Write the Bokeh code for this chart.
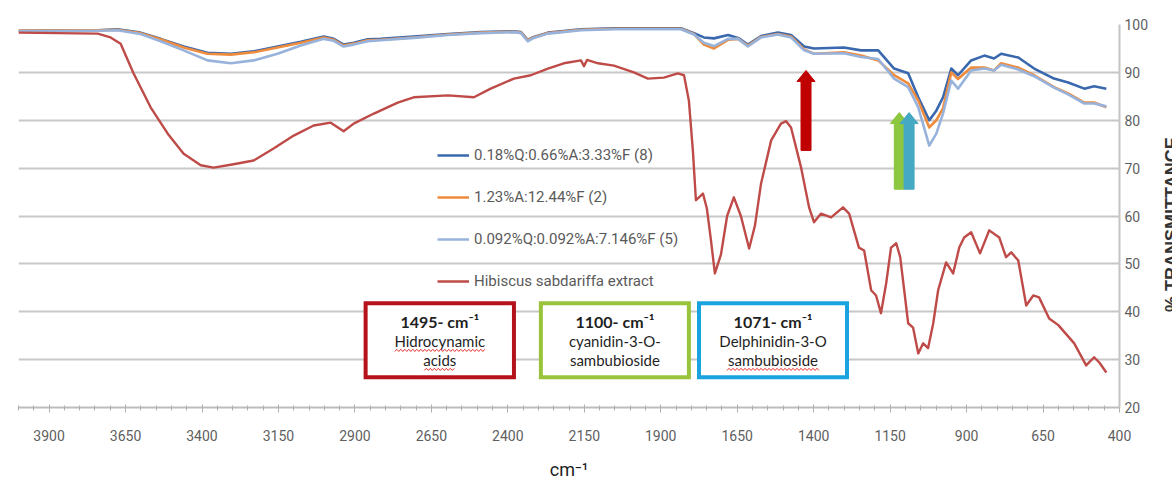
from bokeh.plotting import figure
from bokeh.models import Range1d, FixedTicker, Legend, LegendItem, Div
from bokeh.layouts import row
from bokeh.core.properties import value
from bokeh.embed import file_html
from bokeh.resources import INLINE

# ---- FTIR spectra (wavenumber in cm-1, % transmittance) ----
wavenumber = [4000, 3741, 3676, 3601, 3535, 3460, 3382, 3306, 3231, 3153,
              3077, 3002, 2969, 2937, 2904, 2858, 2816, 2708, 2596, 2488,
              2380, 2357, 2335, 2315, 2269, 2161, 2053, 1942, 1834, 1791,
              1759, 1726, 1680, 1647, 1615, 1572, 1517, 1474, 1431, 1399,
              1301, 1245, 1189, 1137, 1091, 1058, 1022, 999, 977, 950,
              928, 885, 842, 810, 787, 731, 679, 614, 568, 515,
              483, 443]

film_8 = [98.7, 98.8, 99.0, 98.3, 97.0, 95.4, 94.1, 93.9, 94.4, 95.4,
          96.4, 97.5, 97.0, 95.8, 96.2, 96.9, 97.0, 97.5, 98.0, 98.4,
          98.6, 98.4, 96.8, 97.4, 98.3, 99.0, 99.2, 99.2, 99.2, 98.2,
          97.3, 97.1, 97.8, 97.2, 95.8, 97.6, 98.3, 97.8, 95.4, 95.0,
          95.2, 94.6, 94.6, 90.8, 89.8, 84.8, 80.0, 82.0, 84.8, 90.8,
          89.4, 92.5, 93.5, 92.9, 93.9, 93.1, 90.8, 88.7, 87.9, 86.6,
          87.1, 86.6]

film_2 = [98.7, 98.8, 98.9, 98.2, 96.9, 95.2, 93.9, 93.7, 94.2, 95.2,
          96.2, 97.3, 96.8, 95.6, 96.0, 96.7, 96.8, 97.3, 97.9, 98.3,
          98.5, 98.3, 96.7, 97.3, 98.2, 98.9, 99.1, 99.1, 99.1, 98.0,
          95.8, 95.0, 96.8, 97.0, 95.6, 97.4, 98.0, 97.5, 94.8, 93.9,
          94.2, 93.5, 92.5, 89.4, 87.7, 84.1, 78.5, 80.0, 82.5, 90.0,
          88.6, 91.0, 91.0, 90.4, 91.9, 91.0, 89.4, 86.9, 85.6, 83.7,
          83.7, 82.7]

film_5 = [98.6, 98.7, 98.8, 98.0, 96.5, 94.6, 92.5, 91.9, 92.5, 93.9,
          95.6, 97.0, 96.6, 95.4, 95.8, 96.5, 96.7, 97.2, 97.8, 98.2,
          98.4, 98.2, 96.5, 97.2, 98.1, 98.8, 99.0, 99.0, 99.0, 97.9,
          96.2, 95.5, 97.0, 97.0, 95.4, 97.3, 97.9, 97.3, 94.6, 93.9,
          94.0, 93.2, 92.8, 88.7, 86.9, 82.7, 74.7, 77.2, 81.4, 88.3,
          86.6, 90.4, 90.8, 90.4, 91.6, 90.6, 89.2, 86.8, 85.4, 83.5,
          83.5, 82.9]

extract_wavenumber = [4000, 3741, 3699, 3666, 3624, 3568, 3512, 3460, 3404, 3362,
                      3297, 3231, 3166, 3100, 3035, 2979, 2937, 2904, 2838, 2760,
                      2708, 2596, 2511, 2456, 2380, 2325, 2269, 2217, 2161, 2151,
                      2141, 2105, 2053, 1988, 1942, 1890, 1844, 1824, 1808, 1795,
                      1785, 1775, 1762, 1749, 1736, 1723, 1703, 1683, 1661, 1638,
                      1611, 1592, 1572, 1539, 1507, 1490, 1474, 1441, 1415, 1399,
                      1376, 1343, 1304, 1284, 1252, 1235, 1212, 1196, 1180, 1163,
                      1147, 1130, 1117, 1091, 1075, 1058, 1042, 1026, 1009, 993,
                      967, 944, 924, 908, 885, 856, 826, 793, 771, 754,
                      731, 705, 682, 663, 630, 600, 548, 509, 483, 466,
                      443]

extract_t = [98.3, 98.1, 97.3, 96.0, 89.8, 82.7, 77.2, 73.0, 70.6, 70.1,
             70.8, 71.6, 74.1, 76.8, 78.9, 79.5, 77.7, 79.3, 81.4, 83.7,
             84.8, 85.2, 84.8, 86.6, 88.7, 89.4, 90.8, 91.9, 92.5, 91.3,
             92.6, 91.9, 91.4, 90.0, 88.7, 88.9, 89.8, 89.4, 84.1, 73.7,
             63.3, 63.9, 64.7, 61.5, 55.0, 48.0, 52.0, 60.0, 63.9, 60.0,
             53.2, 58.0, 66.8, 75.8, 79.3, 79.8, 78.5, 70.1, 61.8, 58.7,
             60.5, 59.7, 61.8, 60.5, 53.4, 52.8, 44.5, 43.4, 39.7, 45.9,
             53.4, 54.3, 51.4, 37.6, 36.7, 31.3, 33.4, 32.4, 37.6, 44.5,
             50.3, 48.0, 53.4, 55.5, 56.6, 52.2, 57.0, 55.5, 51.4, 52.4,
             50.7, 41.3, 43.4, 43.0, 38.6, 37.2, 33.4, 28.8, 30.5, 29.4,
             27.3]

series_labels = ["0.18%Q:0.66%A:3.33%F (8)", "1.23%A:12.44%F (2)",
                 "0.092%Q:0.092%A:7.146%F (5)", "Hibiscus sabdariffa extract"]
series_colors = ["#3A68AE", "#EE8B3C", "#97B3DC", "#BE4B48"]

x_tick_values = [3900, 3650, 3400, 3150, 2900, 2650, 2400, 2150,
                 1900, 1650, 1400, 1150, 900, 650, 400]
y_tick_values = [20, 30, 40, 50, 60, 70, 80, 90, 100]
y_title = "% TRANSMITTANCE"

# marker arrows for the assigned bands
arrow_wn = [1425, 1120, 1088]
arrow_tail = [73.7, 65.6, 65.6]
arrow_tip = [90.4, 81.6, 81.6]
arrow_colors = ["#C00000", "#8DC63F", "#45A9C4"]

# band assignment boxes
box_left = [2865, 2292, 1775]
box_right = [2380, 1808, 1291]
box_top = [41.75, 41.75, 41.75]
box_bottom = [26.3, 26.3, 26.3]
box_colors = ["#B5121B", "#99C33B", "#1BA3E0"]
box_title = ["1495- cm\u207b\u00b9", "1100- cm\u207b\u00b9", "1071- cm\u207b\u00b9"]
box_line1 = ["Hidrocynamic", "cyanidin-3-O-", "Delphinidin-3-O"]
box_line2 = ["acids", "sambubioside", "sambubioside"]

# spell-check underlines: (box index, text row, underline width in px)
underlines = [(0, 2, 90), (0, 3, 31), (2, 3, 92)]

X_LO, X_HI = 4000, 400
Y_LO, Y_HI = 20, 100
W, H = 1172, 485
STRIP_W = 9                      # narrow strip holding the vertical title
PLOT_W = W - STRIP_W
B_LEFT, B_RIGHT, B_TOP, B_BOTTOM = 18, 53 - STRIP_W, 24, 78
FRAME_W = PLOT_W - B_LEFT - B_RIGHT
FRAME_H = H - B_TOP - B_BOTTOM
WN_PER_PX = (X_LO - X_HI) / FRAME_W
T_PER_PX = (Y_HI - Y_LO) / FRAME_H

SANS = "Roboto"
GRID = "#C8C8C8"
TICK_TEXT = "#5F5F5F"

p = figure(width=PLOT_W, height=H, output_backend="svg", toolbar_location=None,
           x_range=Range1d(X_LO, X_HI), y_range=Range1d(Y_LO, Y_HI),
           y_axis_location="right",
           min_border_left=B_LEFT, min_border_right=B_RIGHT,
           min_border_top=B_TOP, min_border_bottom=B_BOTTOM)
p.outline_line_color = None
p.background_fill_color = "white"
p.border_fill_color = "white"

p.xgrid.grid_line_color = None
p.ygrid.grid_line_color = GRID
p.ygrid.grid_line_width = 2
p.ygrid.ticker = FixedTicker(ticks=y_tick_values)

xa = p.xaxis[0]
xa.ticker = FixedTicker(ticks=x_tick_values, minor_ticks=list(range(400, 4001, 50)))
xa.axis_line_color = "#BDBDBD"
xa.axis_line_width = 2
xa.major_tick_line_color = "#AFAFAF"
xa.minor_tick_line_color = "#AFAFAF"
xa.major_tick_in = 3
xa.major_tick_out = 5
xa.minor_tick_in = 2
xa.minor_tick_out = 3
xa.major_label_standoff = 17
xa.major_label_text_font = SANS
xa.major_label_text_font_size = "14px"
xa.major_label_text_color = TICK_TEXT
xa.axis_label = "cm\u207b\u00b9"
xa.axis_label_text_font = SANS
xa.axis_label_text_font_size = "18px"
xa.axis_label_text_font_style = "normal"
xa.axis_label_text_color = "#1E1E1E"
xa.axis_label_standoff = 15

ya = p.yaxis[0]
ya.ticker = FixedTicker(ticks=y_tick_values)
ya.axis_line_color = "#C4C4C4"
ya.axis_line_width = 2
ya.major_tick_line_color = None
ya.minor_tick_line_color = None
ya.major_tick_out = 0
ya.major_tick_in = 0
ya.major_label_standoff = 5
ya.major_label_text_font = SANS
ya.major_label_text_font_size = "14px"
ya.major_label_text_color = TICK_TEXT

# spectra
renderers = []
for ys, color in zip([film_8, film_2, film_5], series_colors[:3]):
    renderers.append(p.line(wavenumber, ys, line_color=color, line_width=2.6,
                            line_join="round"))
renderers.append(p.line(extract_wavenumber, extract_t, line_color=series_colors[3],
                        line_width=2.4, line_join="round"))

legend = Legend(items=[LegendItem(label=lab, renderers=[r])
                       for lab, r in zip(series_labels, renderers)],
                location=(419, 116), orientation="vertical",
                background_fill_alpha=0, border_line_alpha=0,
                glyph_width=32, glyph_height=20, label_height=20,
                spacing=22, padding=0, margin=0, label_standoff=5,
                label_text_font=SANS, label_text_font_size="15px",
                label_text_color="#5A5A5A")
p.add_layout(legend)


# arrows
def arrow_outline(xc, y_tail, y_tip, shaft_px=5, head_px=9, head_len_px=11):
    sx = shaft_px * WN_PER_PX
    hx = head_px * WN_PER_PX
    hl = head_len_px * T_PER_PX
    xs = [xc - sx, xc + sx, xc + sx, xc + hx, xc, xc - hx, xc - sx]
    ys = [y_tail, y_tail, y_tip - hl, y_tip - hl, y_tip, y_tip - hl, y_tip - hl]
    return xs, ys


axs, ays = [], []
for xc, y0, y1 in zip(arrow_wn, arrow_tail, arrow_tip):
    a, b = arrow_outline(xc, y0, y1)
    axs.append(a)
    ays.append(b)
p.patches(axs, ays, fill_color=arrow_colors, line_color=arrow_colors, line_width=1)

# boxes with band assignments
p.quad(left=box_left, right=box_right, top=box_top, bottom=box_bottom,
       fill_color="white", line_color=box_colors, line_width=4, line_join="miter")
box_cx = [(l + r) / 2 for l, r in zip(box_left, box_right)]
row_y = {1: box_top[0] - 18 * T_PER_PX,
         2: box_top[0] - 38 * T_PER_PX,
         3: box_top[0] - 57 * T_PER_PX}
p.text(box_cx, [row_y[1]] * 3, text=box_title, text_align="center", text_baseline="middle",
       text_font=value("Lato"), text_font_style="bold", text_font_size="16px",
       text_color="#1F1F1F")
p.text(box_cx, [row_y[2]] * 3, text=box_line1, text_align="center", text_baseline="middle",
       text_font=value("Lato"), text_font_size="15px", text_color="#1F1F1F")
p.text(box_cx, [row_y[3]] * 3, text=box_line2, text_align="center", text_baseline="middle",
       text_font=value("Lato"), text_font_size="15px", text_color="#1F1F1F")

# wavy red underlines below flagged words
wx, wy = [], []
for bi, row_i, width_px in underlines:
    n = width_px // 2
    start = box_cx[bi] + (width_px / 2) * WN_PER_PX
    base = row_y[row_i] - 9 * T_PER_PX
    wx.append([start - 2 * i * WN_PER_PX for i in range(n + 1)])
    wy.append([base + (1.1 if i % 2 else -1.1) * T_PER_PX for i in range(n + 1)])
p.multi_line(wx, wy, line_color="#E0332F", line_width=1)

# vertical axis title: a narrow strip at the right edge, reading bottom-to-top
title_html = (
    f'<div style="position:relative;width:{STRIP_W}px;height:{H}px;overflow:hidden;'
    'background:white">'
    '<div style="position:absolute;left:0;top:312px;transform-origin:0 0;'
    'transform:rotate(-90deg);white-space:nowrap;line-height:18px;'
    "font-family:'Liberation Sans',sans-serif;font-weight:bold;font-size:18px;"
    f'color:#333333">{y_title}</div></div>'
)
strip = Div(text=title_html, width=STRIP_W, height=H, margin=0)

layout = row(p, strip, spacing=0)
open("out.html", "w").write(file_html(layout, INLINE))
